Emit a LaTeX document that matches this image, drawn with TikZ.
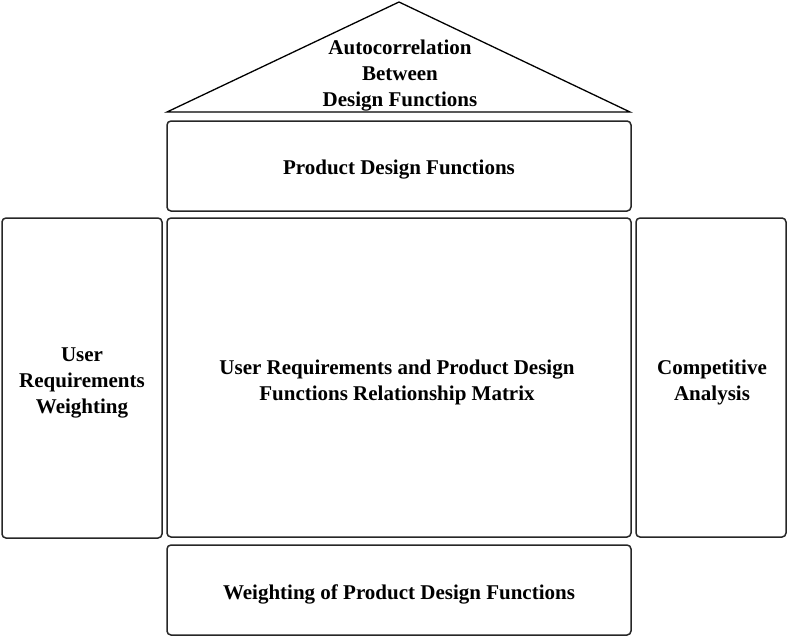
\documentclass[tikz,border=0pt]{standalone}
\usepackage{fontspec}
\setmainfont{Liberation Serif}
\begin{document}
\begin{tikzpicture}[x=1pt,y=-1pt,
  box/.style={draw=black!85,line width=1.5pt,rounded corners=4pt,inner sep=0pt},
  lbl/.style={align=center,font=\fontsize{21}{26}\selectfont\bfseries,inner sep=0pt}]
\useasboundingbox (0,0) rectangle (788,637);
\draw[line width=1.3pt,line join=miter] (167,112) coordinate (tl) -- (399,2) coordinate (apex) -- (630,112) coordinate (tr) -- cycle;
\node[lbl] (roof) at (400,76) {Autocorrelation\\Between\\Design Functions};
\node[box,minimum width=464pt,minimum height=90pt] (pdfbox) at (399,166) {};
\node[lbl] (pdf) at (399,170) {Product Design Functions};
\node[box,minimum width=160pt,minimum height=320pt] (urwbox) at (82,378) {};
\node[lbl] (urw) at (82,383) {User\\Requirements\\Weighting};
\node[box,minimum width=464pt,minimum height=319pt] (matbox) at (399,377.5) {};
\node[lbl] (mat) at (397,382) {User Requirements and Product Design\\Functions Relationship Matrix};
\node[box,minimum width=150pt,minimum height=319pt] (cabox) at (711,377.5) {};
\node[lbl] (ca) at (712,382) {Competitive\\Analysis};
\node[box,minimum width=464pt,minimum height=90pt] (wbox) at (399,590) {};
\node[lbl] (w) at (399,594) {Weighting of Product Design Functions};
\end{tikzpicture}
\end{document}
